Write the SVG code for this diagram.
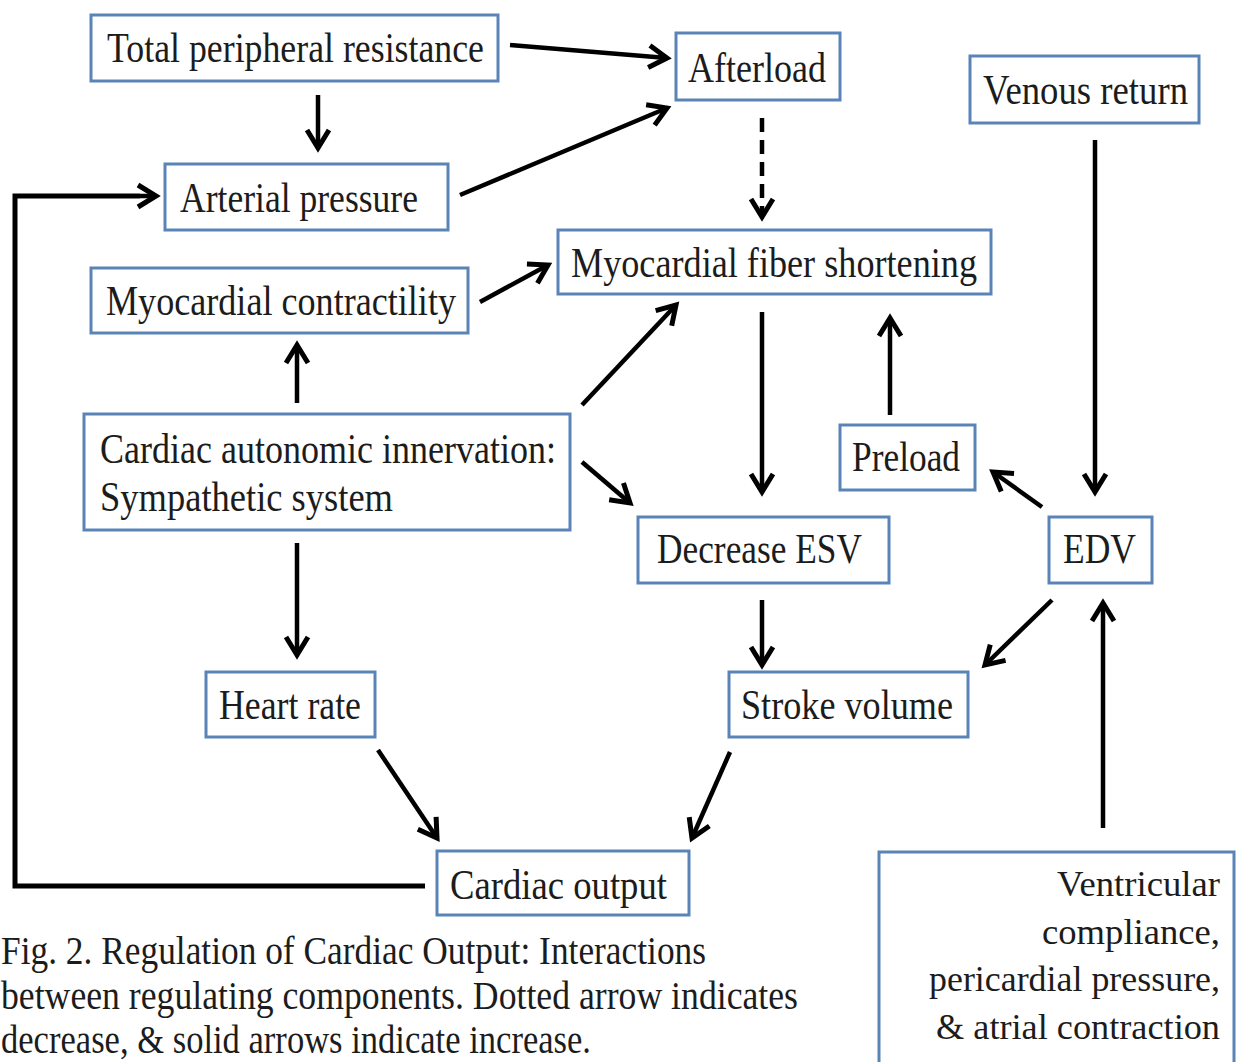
<svg xmlns="http://www.w3.org/2000/svg" width="1237" height="1062" viewBox="0 0 1237 1062">
<style>
.box{fill:#ffffff;stroke:#5a84b8;stroke-width:3}
.t{font-family:"Liberation Serif","DejaVu Serif",serif;font-size:42px;fill:#1c1c1c}
.cap{font-size:39px}
.vc{font-size:36.5px}
.c{fill:none;stroke:#000;stroke-width:4.5;marker-end:url(#ah)}
.d{fill:none;stroke:#000;stroke-width:4.5;stroke-dasharray:14 8;marker-end:url(#ah)}
.p{fill:none;stroke:#000;stroke-width:5}
</style>
<defs>
<marker id="ah" markerUnits="userSpaceOnUse" markerWidth="40" markerHeight="40" viewBox="-20 -20 40 40" refX="0" refY="0" orient="auto">
<path d="M-18,-11 L0,0 L-18,11" fill="none" stroke="#000" stroke-width="5" stroke-linejoin="miter"/>
</marker>
</defs>
<rect width="1237" height="1062" fill="#ffffff"/>
<g id="connectors">
<line class="c" x1="510" y1="45" x2="667" y2="58"/>
<line class="c" x1="318" y1="95" x2="318" y2="148"/>
<line class="c" x1="460" y1="195" x2="667" y2="108"/>
<line class="d" x1="762" y1="118" x2="762" y2="217"/>
<polyline class="p" points="425,886 15,886 15,196 140,196"/>
<line class="c" x1="140" y1="196" x2="156" y2="196"/>
<line class="c" x1="480" y1="302" x2="548" y2="265"/>
<line class="c" x1="297" y1="403" x2="297" y2="345"/>
<line class="c" x1="582" y1="405" x2="676" y2="305"/>
<line class="c" x1="582" y1="462" x2="630" y2="503"/>
<line class="c" x1="297" y1="543" x2="297" y2="655"/>
<line class="c" x1="762" y1="312" x2="762" y2="492"/>
<line class="c" x1="890" y1="415" x2="890" y2="318"/>
<line class="c" x1="1095" y1="140" x2="1095" y2="492"/>
<line class="c" x1="1042" y1="507" x2="993" y2="472"/>
<line class="c" x1="762" y1="600" x2="762" y2="665"/>
<line class="c" x1="1052" y1="600" x2="985" y2="665"/>
<line class="c" x1="378" y1="750" x2="437" y2="838"/>
<line class="c" x1="730" y1="752" x2="692" y2="838"/>
<line class="c" x1="1103" y1="828" x2="1103" y2="603"/>
</g>
<g id="n-tpr"><rect class="box" x="91" y="15" width="407" height="66"/><text class="t" x="107" y="62" textLength="377" lengthAdjust="spacingAndGlyphs">Total peripheral resistance</text></g>
<g id="n-afterload"><rect class="box" x="676" y="33" width="164" height="67"/><text class="t" x="688" y="82" textLength="138" lengthAdjust="spacingAndGlyphs">Afterload</text></g>
<g id="n-venous"><rect class="box" x="970" y="56" width="229" height="67"/><text class="t" x="983" y="104" textLength="205" lengthAdjust="spacingAndGlyphs">Venous return</text></g>
<g id="n-arterial"><rect class="box" x="165" y="164" width="283" height="66"/><text class="t" x="180" y="212" textLength="238" lengthAdjust="spacingAndGlyphs">Arterial pressure</text></g>
<g id="n-mfs"><rect class="box" x="558" y="230" width="433" height="64"/><text class="t" x="571" y="277" textLength="406" lengthAdjust="spacingAndGlyphs">Myocardial fiber shortening</text></g>
<g id="n-contract"><rect class="box" x="91" y="268" width="377" height="65"/><text class="t" x="106" y="315" textLength="350" lengthAdjust="spacingAndGlyphs">Myocardial contractility</text></g>
<g id="n-cai"><rect class="box" x="84" y="414" width="486" height="116"/><text class="t" x="100" y="463" textLength="456" lengthAdjust="spacingAndGlyphs">Cardiac autonomic innervation:</text><text class="t" x="100" y="511" textLength="293" lengthAdjust="spacingAndGlyphs">Sympathetic system</text></g>
<g id="n-preload"><rect class="box" x="840" y="425" width="135" height="65"/><text class="t" x="852" y="471" textLength="108" lengthAdjust="spacingAndGlyphs">Preload</text></g>
<g id="n-esv"><rect class="box" x="638" y="517" width="251" height="66"/><text class="t" x="657" y="563" textLength="205" lengthAdjust="spacingAndGlyphs">Decrease ESV</text></g>
<g id="n-edv"><rect class="box" x="1049" y="517" width="103" height="66"/><text class="t" x="1063" y="563" textLength="73" lengthAdjust="spacingAndGlyphs">EDV</text></g>
<g id="n-hr"><rect class="box" x="206" y="672" width="169" height="65"/><text class="t" x="219" y="719" textLength="142" lengthAdjust="spacingAndGlyphs">Heart rate</text></g>
<g id="n-sv"><rect class="box" x="729" y="672" width="239" height="65"/><text class="t" x="741" y="719" textLength="212" lengthAdjust="spacingAndGlyphs">Stroke volume</text></g>
<g id="n-co"><rect class="box" x="437" y="851" width="252" height="64"/><text class="t" x="450" y="899" textLength="217" lengthAdjust="spacingAndGlyphs">Cardiac output</text></g>
<g id="n-vc"><path class="box" d="M879,1062 V852 H1234 V1062"/>
<text class="t vc" x="1057" y="896" textLength="163" lengthAdjust="spacingAndGlyphs">Ventricular</text>
<text class="t vc" x="1042" y="944" textLength="178" lengthAdjust="spacingAndGlyphs">compliance,</text>
<text class="t vc" x="929" y="991" textLength="291" lengthAdjust="spacingAndGlyphs">pericardial pressure,</text>
<text class="t vc" x="936" y="1039" textLength="284" lengthAdjust="spacingAndGlyphs">&amp; atrial contraction</text>
</g>
<g id="caption">
<text class="t cap" x="1" y="964" textLength="705" lengthAdjust="spacingAndGlyphs">Fig. 2. Regulation of Cardiac Output: Interactions</text>
<text class="t cap" x="1" y="1009" textLength="797" lengthAdjust="spacingAndGlyphs">between regulating components. Dotted arrow indicates</text>
<text class="t cap" x="1" y="1053" textLength="590" lengthAdjust="spacingAndGlyphs">decrease, &amp; solid arrows indicate increase.</text>
</g>
</svg>
